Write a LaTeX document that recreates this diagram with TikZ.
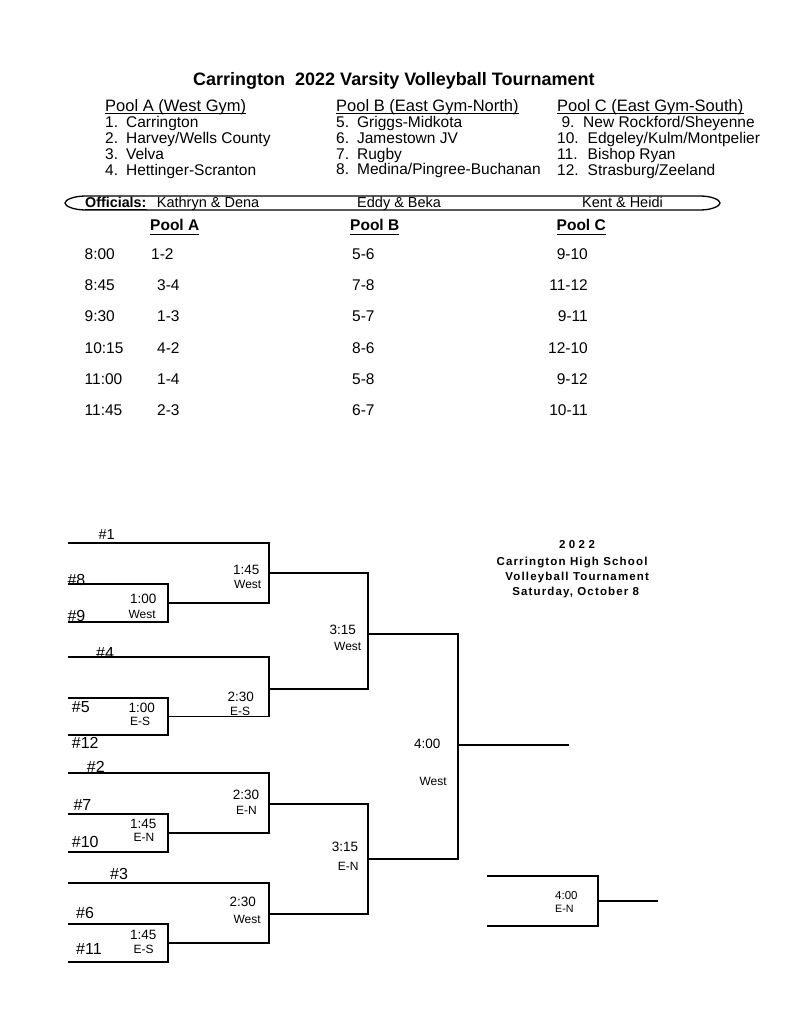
\documentclass[tikz,border=0pt]{standalone}
\usepackage{fontspec}
\setmainfont{Liberation Sans}

\newcommand{\fsz}[1]{\fontsize{#1}{#1}\selectfont}

\begin{document}
\begin{tikzpicture}[x=1pt, y=-1pt,
    txt/.style={inner sep=0pt, anchor=base west},
    seed/.style={txt, font=\fsz{16}},
    tim/.style={txt, font=\fsz{13.5}},
    gym/.style={txt, font=\fsz{12}},
    hdr/.style={inner sep=0pt, anchor=base, font=\bfseries\fsz{11.5}\addfontfeature{LetterSpace=10}},
    brk/.style={line width=1.5pt},
    ul/.style={line width=1.1pt}
  ]
  \useasboundingbox (0,0) rectangle (791,1024);

  % title and pools
  \node[txt, font=\bfseries\fsz{18}] (title) at (193,85.7) {Carrington\ \ 2022 Varsity Volleyball Tournament};
  \node[txt, font=\fsz{16.5}] (pa) at (105,111.7) {Pool A (West Gym)};
  \node[txt, font=\fsz{16.5}] (pb) at (336,111.7) {Pool B (East Gym-North)};
  \node[txt, font=\fsz{16.5}] (pc) at (557,111.7) {Pool C (East Gym-South)};
  \foreach \p in {pa,pb,pc}
    \draw[ul] ([yshift=-1.8pt]\p.base west) -- ([yshift=-1.8pt]\p.base east);

  \node[txt, font=\fsz{15.5}] (teamsa) at (105,127.7) {\begin{tabular}[t]{@{}l@{\hspace{8pt}}l@{}}
      1. & Carrington\\ 2. & Harvey/Wells County\\ 3. & Velva\\ 4. & Hettinger-Scranton\end{tabular}};
  \node[txt, font=\fsz{15.5}] (teamsb) at (336,127.7) {\begin{tabular}[t]{@{}l@{\hspace{8pt}}l@{}}
      5. & Griggs-Midkota\\ 6. & Jamestown JV\\ 7. & Rugby\\ 8. & Medina/Pingree-Buchanan\end{tabular}};
  \node[txt, font=\fsz{15.5}] (teamsc) at (557,127.7) {\begin{tabular}[t]{@{}l@{\hspace{9pt}}l@{}}
      \ 9. & \hspace{-4.5pt}New Rockford/Sheyenne\\ 10. & Edgeley/Kulm/Montpelier\\ 11. & Bishop Ryan\\ 12. & Strasburg/Zeeland\end{tabular}};

  % officials
  \draw[line width=1.3pt] (86,196) -- (700,196) .. controls (712,196) and (720,200) .. (720,203)
    .. controls (720,206) and (712,210) .. (700,210) -- (86,210)
    .. controls (73,210) and (65,206) .. (65,203) .. controls (65,200) and (73,196) .. (86,196) -- cycle;
  \node[txt, font=\bfseries\fsz{14.3}] (offs) at (85,207.7) {Officials:};
  \draw[ul] ([yshift=-1.5pt]offs.base west) -- ([yshift=-1.5pt]offs.base east);
  \node[txt, font=\fsz{14.5}] (offa) at (156.7,207.7) {Kathryn \& Dena};
  \node[txt, font=\fsz{14.5}] (offb) at (357,207.7) {Eddy \& Beka};
  \node[txt, font=\fsz{14.5}] (offc) at (582,207.7) {Kent \& Heidi};

  % schedule
  \node[txt, font=\bfseries\fsz{15.5}] (sa) at (150,231) {Pool A};
  \node[txt, font=\bfseries\fsz{15.5}] (sb) at (350,231) {Pool B};
  \node[txt, font=\bfseries\fsz{15.5}] (sc) at (556.5,231) {Pool C};
  \foreach \p in {sa,sb,sc}
    \draw[ul] ([yshift=-3.3pt]\p.base west) -- ([yshift=-3.3pt]\p.base east);

  \foreach \hr/\ga/\xa/\gb/\gc [count=\i] in {8:00/1-2/151/5-6/9-10, 8:45/3-4/157/7-8/11-12,
      9:30/1-3/157/5-7/9-11, 10:15/4-2/157/8-6/12-10, 11:00/1-4/157/5-8/9-12, 11:45/2-3/157/6-7/10-11}
  {
    \pgfmathsetmacro\yy{259.5+31.2*(\i-1)}
    \node[txt, font=\fsz{15.5}] (hr\i) at (84.5,\yy) {\hr};
    \node[txt, font=\fsz{15.5}] (ga\i) at (\xa,\yy) {\ga};
    \node[txt, font=\fsz{15.5}] (gb\i) at (352,\yy) {\gb};
    \node[txt, font=\fsz{15.5}, anchor=base east] (gc\i) at (588,\yy) {\gc};
  }

  % bracket heading
  \node[hdr, font=\bfseries\fsz{11.5}\addfontfeature{LetterSpace=30}] (h1) at (577,548.3) {2022};
  \node[hdr] (h2) at (572,565) {Carrington High School};
  \node[hdr] (h3) at (577.2,580.7) {Volleyball Tournament};
  \node[hdr] (h4) at (575.7,595) {Saturday, October 8};

  % bracket points
  \coordinate (a1) at (68,543);  \coordinate (a8) at (68,584);  \coordinate (a9) at (68,622);
  \coordinate (a4) at (68,657);  \coordinate (a5) at (68,698);  \coordinate (a12) at (68,735);
  \coordinate (a2) at (68,773);  \coordinate (a7) at (68,814);  \coordinate (a10) at (68,852);
  \coordinate (a3) at (68,883);  \coordinate (a6) at (68,924);  \coordinate (a11) at (68,962);
  \coordinate (g89) at (168,603);  \coordinate (g512) at (168,716.5);
  \coordinate (g710) at (168,833); \coordinate (g611) at (168,943);
  \coordinate (q1) at (269,573); \coordinate (q2) at (269,689);
  \coordinate (q3) at (269,804); \coordinate (q4) at (269,914);
  \coordinate (s1) at (368,634); \coordinate (s2) at (368,859);
  \coordinate (fn) at (458,745); \coordinate (champ) at (569,745);
  \coordinate (c1) at (487,876); \coordinate (c2) at (487,926);
  \coordinate (cm) at (598,901); \coordinate (cout) at (658,901);

  \draw[brk] (a8) -| (g89) |- (a9);
  \draw[brk] (a1) -| (q1) |- (g89);
  \draw[brk] (a5) -| (g512) |- (a12);
  \draw[brk] (a4) -| (q2) |- (g512);
  \draw[brk] (a7) -| (g710) |- (a10);
  \draw[brk] (a2) -| (q3) |- (g710);
  \draw[brk] (a6) -| (g611) |- (a11);
  \draw[brk] (a3) -| (q4) |- (g611);
  \draw[brk] (q1) -| (s1) |- (q2);
  \draw[brk] (q3) -| (s2) |- (q4);
  \draw[brk] (s1) -| (fn) |- (s2);
  \draw[brk] (fn) -- (champ);
  \draw[brk] (c1) -| (cm) |- (c2);
  \draw[brk] (cm) -- (cout);

  % seeds
  \node[seed, font=\fsz{14.5}] (n1) at (98.3,539.3) {\#1};
  \node[seed] (n8) at (67.3,585.5) {\#8};
  \node[seed] (n9) at (67.3,621) {\#9};
  \node[seed] (n4) at (96,658) {\#4};
  \node[seed] (n5) at (71.7,712.3) {\#5};
  \node[seed] (n12) at (71.7,748.3) {\#12};
  \node[seed] (n2) at (86.7,772.3) {\#2};
  \node[seed] (n7) at (73.3,810) {\#7};
  \node[seed] (n10) at (71.7,847.3) {\#10};
  \node[seed] (n3) at (110,879.3) {\#3};
  \node[seed] (n6) at (76,918.3) {\#6};
  \node[seed] (n11) at (76,954.3) {\#11};

  % game times
  \node[tim] (t89) at (130,603.3) {1:00};   \node[gym] (w89) at (128.3,618.3) {West};
  \node[tim] (tq1) at (233,574) {1:45};     \node[gym] (wq1) at (234,588.3) {West};
  \node[tim] (t512) at (128.3,712.7) {1:00}; \node[gym] (w512) at (130,725) {E-S};
  \node[tim] (tq2) at (227.3,701.7) {2:30}; \node[gym] (wq2) at (230,715) {E-S};
  \node[tim] (ts1) at (329.3,634) {3:15};   \node[gym] (ws1) at (334,650) {West};
  \node[tim] (t710) at (130,828.3) {1:45};  \node[gym] (w710) at (133.3,841.7) {E-N};
  \node[tim] (tq3) at (232.7,799.3) {2:30}; \node[gym] (wq3) at (236,814) {E-N};
  \node[tim] (t611) at (130,939) {1:45};    \node[gym] (w611) at (133.3,953.3) {E-S};
  \node[tim] (tq4) at (229.3,906.7) {2:30}; \node[gym] (wq4) at (233.3,923.3) {West};
  \node[tim] (ts2) at (331.7,851.7) {3:15}; \node[gym] (ws2) at (337.7,870) {E-N};
  \node[tim] (tfn) at (414,748.3) {4:00};   \node[gym] (wfn) at (419.3,785) {West};
  \node[tim, font=\fsz{11.5}] (tcm) at (555,899.3) {4:00};
  \node[gym, font=\fsz{10.7}] (wcm) at (555,912.3) {E-N};
\end{tikzpicture}
\end{document}
